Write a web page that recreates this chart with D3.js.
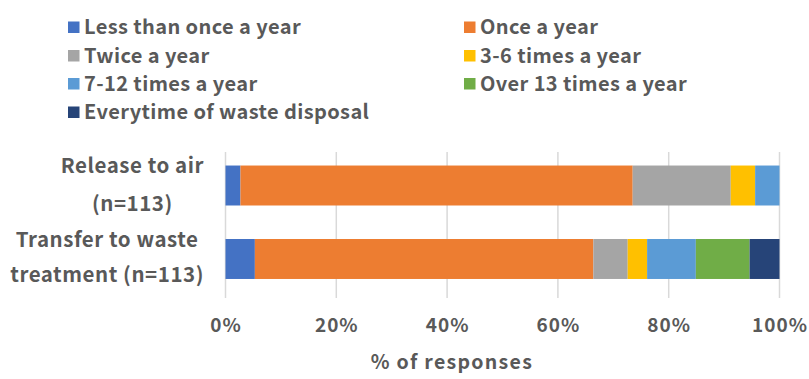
<!DOCTYPE html>
<html>
<head>
<meta charset="utf-8">
<script src="https://cdn.jsdelivr.net/npm/d3@7"></script>
<style>
  html, body { margin: 0; padding: 0; background: #fff; }
  svg { display: block; }
  text { font-family: "Noto Sans CJK JP", "Noto Sans", sans-serif; fill: #595959; font-weight: bold; }
</style>
</head>
<body>
<svg id="chart" width="809" height="379"></svg>
<script>
// Frequency categories (stack order, left to right)
const frequencies = [
  "Less than once a year", "Once a year", "Twice a year", "3-6 times a year",
  "7-12 times a year", "Over 13 times a year", "Everytime of waste disposal"
];
const colors = ["#4472C4", "#ED7D31", "#A5A5A5", "#FFC000", "#5B9BD5", "#70AD47", "#264478"];

// Activities (rows), each label split over two lines
const activities = ["Release to air", "Transfer to waste treatment"];
const activityLines = [["Release to air", "(n=113)"], ["Transfer to waste", "treatment (n=113)"]];

// % of responses per frequency category
const releaseToAir = [2.7, 70.8, 17.7, 4.4, 4.4, 0, 0];
const transferToWaste = [5.3, 61.1, 6.2, 3.5, 8.8, 9.7, 5.4];

const tickValues = [0, 20, 40, 60, 80, 100];
const axisTitle = "% of responses";

const svg = d3.select("#chart");
const plot = { left: 225.5, right: 779.5, top: 152, bottom: 298 };

const x = d3.scaleLinear().domain([0, 100]).range([plot.left, plot.right]);
const y = d3.scaleBand().domain(activities).range([152.3, 292.2]).paddingInner(0.456).paddingOuter(0.18);

// Gridlines
svg.append("g")
  .selectAll("line")
  .data(tickValues)
  .join("line")
  .attr("x1", d => x(d)).attr("x2", d => x(d))
  .attr("y1", plot.top).attr("y2", plot.bottom)
  .attr("stroke", "#d9d9d9").attr("stroke-width", 1.5);

// Stacked bars
const rows = [releaseToAir, transferToWaste].map((vals, i) => {
  const obj = { activity: activities[i] };
  frequencies.forEach((f, j) => obj[f] = vals[j]);
  return obj;
});
const stacked = d3.stack().keys(frequencies)(rows);

svg.append("g")
  .selectAll("g")
  .data(stacked)
  .join("g")
  .attr("fill", (d, i) => colors[i])
  .selectAll("rect")
  .data(d => d)
  .join("rect")
  .attr("x", d => x(d[0]))
  .attr("width", d => x(d[1]) - x(d[0]))
  .attr("y", d => y(d.data.activity))
  .attr("height", y.bandwidth());

// X axis labels
const xAxis = d3.axisBottom(x).tickValues(tickValues).tickFormat(d => d + "%").tickSize(0).tickPadding(0);
const gx = svg.append("g").attr("transform", `translate(0,${plot.bottom})`).call(xAxis);
gx.select(".domain").remove();
gx.selectAll("text")
  .attr("dy", null).attr("y", 34)
  .style("font-size", "19px").style("letter-spacing", "1px")
  .attr("fill", "#595959");

// Axis title
svg.append("text")
  .attr("x", 452).attr("y", 369)
  .attr("text-anchor", "middle")
  .style("font-size", "19.5px").style("letter-spacing", "1.3px")
  .text(axisTitle);

// Category labels: block right-aligned, lines centred within block
const labelRight = 204;
const labelOffsets = [[-13, 25], [-11.5, 23.5]];
activityLines.forEach((lines, i) => {
  const g = svg.append("g");
  const texts = g.selectAll("text").data(lines).join("text")
    .style("font-size", "20.5px").style("letter-spacing", "0.55px")
    .text(d => d);
  const maxW = d3.max(texts.nodes(), n => n.getComputedTextLength());
  const cx = labelRight - maxW / 2;
  const yc = y(activities[i]) + y.bandwidth() / 2;
  texts.attr("x", cx).attr("text-anchor", "middle").attr("y", (d, k) => yc + labelOffsets[i][k]);
});

// Legend: two columns
const legendCols = [68, 464];
const legendRows = [34, 62.5, 90.5, 119];
const legend = svg.append("g");
frequencies.forEach((f, i) => {
  const col = i % 2, row = Math.floor(i / 2);
  const lx = legendCols[col], ly = legendRows[row];
  legend.append("rect")
    .attr("x", lx).attr("y", ly - 12.5).attr("width", 11.5).attr("height", 11.5)
    .attr("fill", colors[i]);
  legend.append("text")
    .attr("x", lx + 16).attr("y", ly)
    .style("font-size", "20px").style("letter-spacing", "0.4px")
    .text(f);
});
</script>
</body>
</html>
